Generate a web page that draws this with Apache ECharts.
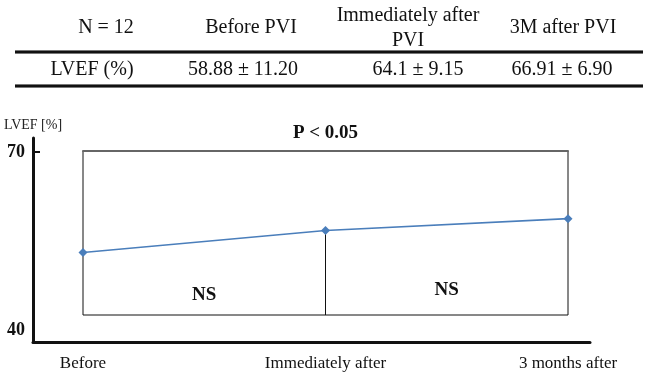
<!DOCTYPE html>
<html>
<head>
<meta charset="utf-8">
<script src="https://cdn.jsdelivr.net/npm/echarts@6/dist/echarts.min.js"></script>
<style>
html,body{margin:0;padding:0;background:#fff;}
#c{width:650px;height:380px;}
</style>
</head>
<body>
<div id="c"></div>
<script>
// ---- data ----
const categories = ['Before', 'Immediately after', '3 months after'];
const lvefMeans = [58.88, 64.1, 66.91];
const tableHeaders = ['N = 12', 'Before PVI', 'Immediately after\nPVI', '3M after PVI'];
const tableRowLabel = 'LVEF (%)';
const tableValues = ['58.88 \u00b1 11.20', '64.1 \u00b1 9.15', '66.91 \u00b1 6.90'];
const yTickLabels = [40, 70];
const pairSignificance = ['NS', 'NS'];
const overallSignificance = 'P < 0.05';
const yAxisName = 'LVEF [%]';

// ---- layout ----
const serif = '"Liberation Serif", "Times New Roman", serif';
const ink = '#111';
const hiddenMin = 44, hiddenMax = 83;
const headerX = [106, 251, 408, 563];
const valueX = [92, 243, 418, 562];

const graphics = [];
tableHeaders.forEach((t, i) => {
  graphics.push({type:'text', x: headerX[i], y: 28, style:{text:t, fill:ink, font:'20px ' + serif, textAlign:'center', textVerticalAlign:'middle', lineHeight:25}});
});
graphics.push({type:'text', x: valueX[0], y: 70, style:{text:tableRowLabel, fill:ink, font:'20px ' + serif, textAlign:'center', textVerticalAlign:'middle'}});
tableValues.forEach((t, i) => {
  graphics.push({type:'text', x: valueX[i+1], y: 70, style:{text:t, fill:ink, font:'20px ' + serif, textAlign:'center', textVerticalAlign:'middle'}});
});
[52, 86].forEach(y => {
  graphics.push({type:'line', shape:{x1:15, y1:y, x2:643, y2:y}, style:{stroke:'#777', lineWidth:4}});
  graphics.push({type:'line', shape:{x1:15, y1:y, x2:643, y2:y}, style:{stroke:'#111', lineWidth:2}});
});

const chart = echarts.init(document.getElementById('c'));
chart.setOption({
  animation: false,
  backgroundColor: '#fff',
  graphic: graphics,
  grid: [
    {left:33, right:60, top:138, bottom:38},
    {left:83, right:82, top:151, bottom:65, show:true, borderColor:ink, borderWidth:1, backgroundColor:'transparent'}
  ],
  xAxis: [
    {gridIndex:0, type:'value', min:0, max:1, axisLine:{show:true, lineStyle:{color:ink, width:3}}, axisTick:{show:false}, axisLabel:{show:false}, splitLine:{show:false}},
    {gridIndex:1, type:'category', data:categories, boundaryGap:false, axisLine:{show:false}, axisTick:{show:false},
      axisLabel:{interval:0, margin:40, fontSize:17, fontFamily:serif, color:ink}, splitLine:{show:false}},
    {gridIndex:1, type:'category', data:categories, boundaryGap:false, position:'top',
      axisLine:{show:true, lineStyle:{color:'#666', width:2}}, axisTick:{show:false}, axisLabel:{show:false}, splitLine:{show:false},
      name: overallSignificance, nameLocation:'middle', nameGap:8,
      nameTextStyle:{fontWeight:'bold', fontSize:19, fontFamily:serif, color:ink}}
  ],
  yAxis: [
    {gridIndex:0, type:'value', min:38, max:72.36,
      name: yAxisName, nameLocation:'end', nameGap:6,
      nameTextStyle:{fontSize:14, fontFamily:serif, color:'#222'},
      axisLine:{show:true, lineStyle:{color:ink, width:3}},
      axisTick:{show:true, inside:true, length:7, customValues:[yTickLabels[1]], lineStyle:{color:ink, width:2}},
      axisLabel:{customValues:yTickLabels, fontWeight:'bold', fontSize:18, fontFamily:serif, color:ink, margin:8},
      splitLine:{show:false}},
    {gridIndex:1, type:'value', min:hiddenMin, max:hiddenMax, show:false, splitLine:{show:false}}
  ],
  series: [
    {type:'bar', xAxisIndex:1, yAxisIndex:1, data: lvefMeans.map((v, i) => i === 1 ? v : null),
      barWidth:1, itemStyle:{color:ink}, z:2, silent:true},
    {type:'line', xAxisIndex:1, yAxisIndex:1, data: lvefMeans, symbol:'diamond', symbolSize:9,
      itemStyle:{color:'#4a7ebb'}, lineStyle:{color:'#4a7ebb', width:1.6}, z:5,
      markArea:{silent:true, itemStyle:{color:'rgba(0,0,0,0)'},
        label:{position:'insideBottom', fontWeight:'bold', fontSize:19, fontFamily:serif, color:ink},
        data:[
          [{xAxis:categories[0], yAxis:hiddenMin, name:pairSignificance[0], label:{distance:10}}, {xAxis:categories[1], yAxis:hiddenMax}],
          [{xAxis:categories[1], yAxis:hiddenMin, name:pairSignificance[1], label:{distance:15}}, {xAxis:categories[2], yAxis:hiddenMax}]
        ]}}
  ]
});
</script>
</body>
</html>
